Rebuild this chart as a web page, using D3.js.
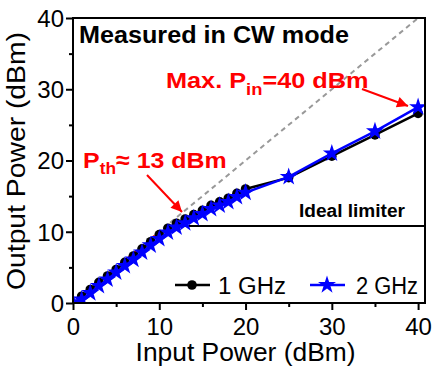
<!DOCTYPE html>
<html><head><meta charset="utf-8">
<script src="https://cdn.jsdelivr.net/npm/d3@7"></script>
<style>body{margin:0;background:#fff}svg{display:block}text{font-family:"Liberation Sans",Arial,sans-serif}</style>
</head><body><svg id="c" width="435" height="370"></svg>
<script>
const inputs1 = [1,2,3,4,5,6,7,8,9,10,11,12,13,14,15,16,17,18,19,20,25,30,35,40];
const out1GHz = [0.95,1.9,2.9,3.8,4.7,5.7,6.6,7.6,8.6,9.6,10.5,11.2,11.8,12.4,13.0,13.7,14.2,14.7,15.4,16.0,17.6,20.6,23.6,26.6];
const inputs2 = [0,1,2,3,4,5,6,7,8,9,10,11,12,13,14,15,16,17,18,19,20,25,30,35,40];
const out2GHz = [0.1,0.5,1.4,2.4,3.3,4.3,5.2,6.1,7.1,8.1,9.0,9.9,10.6,11.2,11.9,12.5,13.2,13.7,14.2,14.9,15.5,17.7,21.0,24.1,27.5];
const idealX = [0, 40];
const idealY = [0, 40];
const limiterX = [10.8, 40.8];
const limiterY = [10.8, 10.8];
const redX = [0, 11];
const redY = [0, 11];
const xTicks = [0,10,20,30,40];
const yTicks = [0,10,20,30,40];
const xMinor = [5,15,25,35];
const yMinor = [5,15,25,35];
const seriesNames = ["1 GHz","2 GHz"];

const svg = d3.select("#c");
const m = {l:73, t:18, r:10, b:67};
const W = 435 - m.l - m.r, H = 370 - m.t - m.b;
const x = d3.scaleLinear().domain([0,40.8]).range([0,W]);
const y = d3.scaleLinear().domain([0,40]).range([H,0]);
const g = svg.append("g").attr("transform",`translate(${m.l},${m.t})`);

g.append("clipPath").attr("id","cp").append("rect").attr("width",W).attr("height",H);
const pg = g.append("g").attr("clip-path","url(#cp)");

const line = d3.line().x(d=>x(d[0])).y(d=>y(d[1]));
pg.append("path").datum(d3.zip(idealX,idealY)).attr("d",line)
  .attr("fill","none").attr("stroke","#999").attr("stroke-width",2).attr("stroke-dasharray","5,4");
pg.append("path").datum(d3.zip(limiterX,limiterY)).attr("d",line)
  .attr("fill","none").attr("stroke","#000").attr("stroke-width",2);
pg.append("path").datum(d3.zip(redX,redY)).attr("d",line)
  .attr("fill","none").attr("stroke","#f00").attr("stroke-width",2).attr("stroke-dasharray","2,6");

const d1 = d3.zip(inputs1,out1GHz), d2 = d3.zip(inputs2,out2GHz);
pg.append("path").datum(d1).attr("d",line).attr("fill","none").attr("stroke","#000").attr("stroke-width",2.5);
pg.selectAll(".c1").data(d1).join("circle").attr("cx",d=>x(d[0])).attr("cy",d=>y(d[1])).attr("r",4.8).attr("fill","#000");
pg.append("path").datum(d2).attr("d",line).attr("fill","none").attr("stroke","#0000ff").attr("stroke-width",2.5);
const star = d3.symbol().type(d3.symbolStar).size(100);
pg.selectAll(".s2").data(d2).join("path").attr("d",star).attr("transform",d=>`translate(${x(d[0])},${y(d[1])})`).attr("fill","#0000ff");

// axes
const fs = 24;
const xa = g.append("g").attr("transform",`translate(0,${H})`)
  .call(d3.axisBottom(x).tickValues(xTicks).tickSize(7).tickFormat(d3.format("d")));
const xm = g.append("g").attr("transform",`translate(0,${H})`)
  .call(d3.axisBottom(x).tickValues(xMinor).tickSize(4).tickFormat(""));
const ya = g.append("g").call(d3.axisLeft(y).tickValues(yTicks).tickSize(7).tickFormat(d3.format("d")));
const ym = g.append("g").call(d3.axisLeft(y).tickValues(yMinor).tickSize(4).tickFormat(""));
[xa,xm,ya,ym].forEach(a=>{a.select(".domain").remove();a.selectAll("line").attr("stroke","#000").attr("stroke-width",2);});
xa.selectAll("text").attr("font-size",fs).attr("fill","#000").attr("dy",0).attr("y",32);
ya.selectAll("text").attr("font-size",fs).attr("fill","#000").attr("dy","0.35em").attr("x",-9);
g.append("rect").attr("width",W).attr("height",H).attr("fill","none").attr("stroke","#000").attr("stroke-width",2);

svg.append("text").attr("x",m.l+x(20)).attr("y",361).attr("text-anchor","middle").attr("font-size",25)
  .attr("textLength",220).attr("lengthAdjust","spacingAndGlyphs").text("Input Power (dBm)");
svg.append("text").attr("transform","translate(25,161) rotate(-90)").attr("text-anchor","middle").attr("font-size",25)
  .attr("textLength",258).attr("lengthAdjust","spacingAndGlyphs").text("Output Power (dBm)");

// annotations
svg.append("text").attr("x",79).attr("y",43).attr("font-size",23).attr("font-weight","bold")
  .attr("textLength",270).attr("lengthAdjust","spacingAndGlyphs").text("Measured in CW mode");
const t1 = svg.append("g").attr("transform","translate(166,88) scale(1.15,1)")
  .append("text").attr("font-size",22).attr("font-weight","bold").attr("fill","#f00");
t1.append("tspan").text("Max. P");
t1.append("tspan").attr("font-size",16).attr("dy",7).text("in");
t1.append("tspan").attr("dy",-7).text("=40 dBm");
const t2 = svg.append("g").attr("transform","translate(83,168) scale(1.085,1)")
  .append("text").attr("font-size",23).attr("font-weight","bold").attr("fill","#f00");
t2.append("tspan").text("P");
t2.append("tspan").attr("font-size",16).attr("dy",6).text("th");
t2.append("tspan").attr("dy",-6).text("\u2248 13 dBm");
svg.append("text").attr("x",299).attr("y",217).attr("font-size",18).attr("font-weight","bold")
  .attr("textLength",106).attr("lengthAdjust","spacingAndGlyphs").text("Ideal limiter");

// arrows
svg.append("defs").append("marker").attr("id","ah").attr("viewBox","0 0 10 10").attr("refX",10).attr("refY",5)
  .attr("markerWidth",14).attr("markerHeight",11).attr("markerUnits","userSpaceOnUse").attr("orient","auto")
  .append("path").attr("d","M0,0L10,5L0,10Z").attr("fill","#f00");
svg.append("line").attr("x1",362).attr("y1",89).attr("x2",408).attr("y2",106).attr("stroke","#f00").attr("stroke-width",2).attr("marker-end","url(#ah)");
svg.append("line").attr("x1",147).attr("y1",175).attr("x2",182).attr("y2",212).attr("stroke","#f00").attr("stroke-width",2).attr("marker-end","url(#ah)");

// legend
const lg = svg.append("g");
lg.append("line").attr("x1",175).attr("x2",210).attr("y1",285).attr("y2",285).attr("stroke","#000").attr("stroke-width",2.5);
lg.append("circle").attr("cx",192).attr("cy",285).attr("r",4.8).attr("fill","#000");
lg.append("text").attr("x",218).attr("y",294).attr("font-size",23).attr("textLength",68).attr("lengthAdjust","spacingAndGlyphs").text(seriesNames[0]);
lg.append("line").attr("x1",310).attr("x2",345).attr("y1",285).attr("y2",285).attr("stroke","#0000ff").attr("stroke-width",2.5);
lg.append("path").attr("d",star).attr("transform","translate(327,285)").attr("fill","#0000ff");
lg.append("text").attr("x",356).attr("y",294).attr("font-size",23).attr("textLength",62).attr("lengthAdjust","spacingAndGlyphs").text(seriesNames[1]);
</script></body></html>
